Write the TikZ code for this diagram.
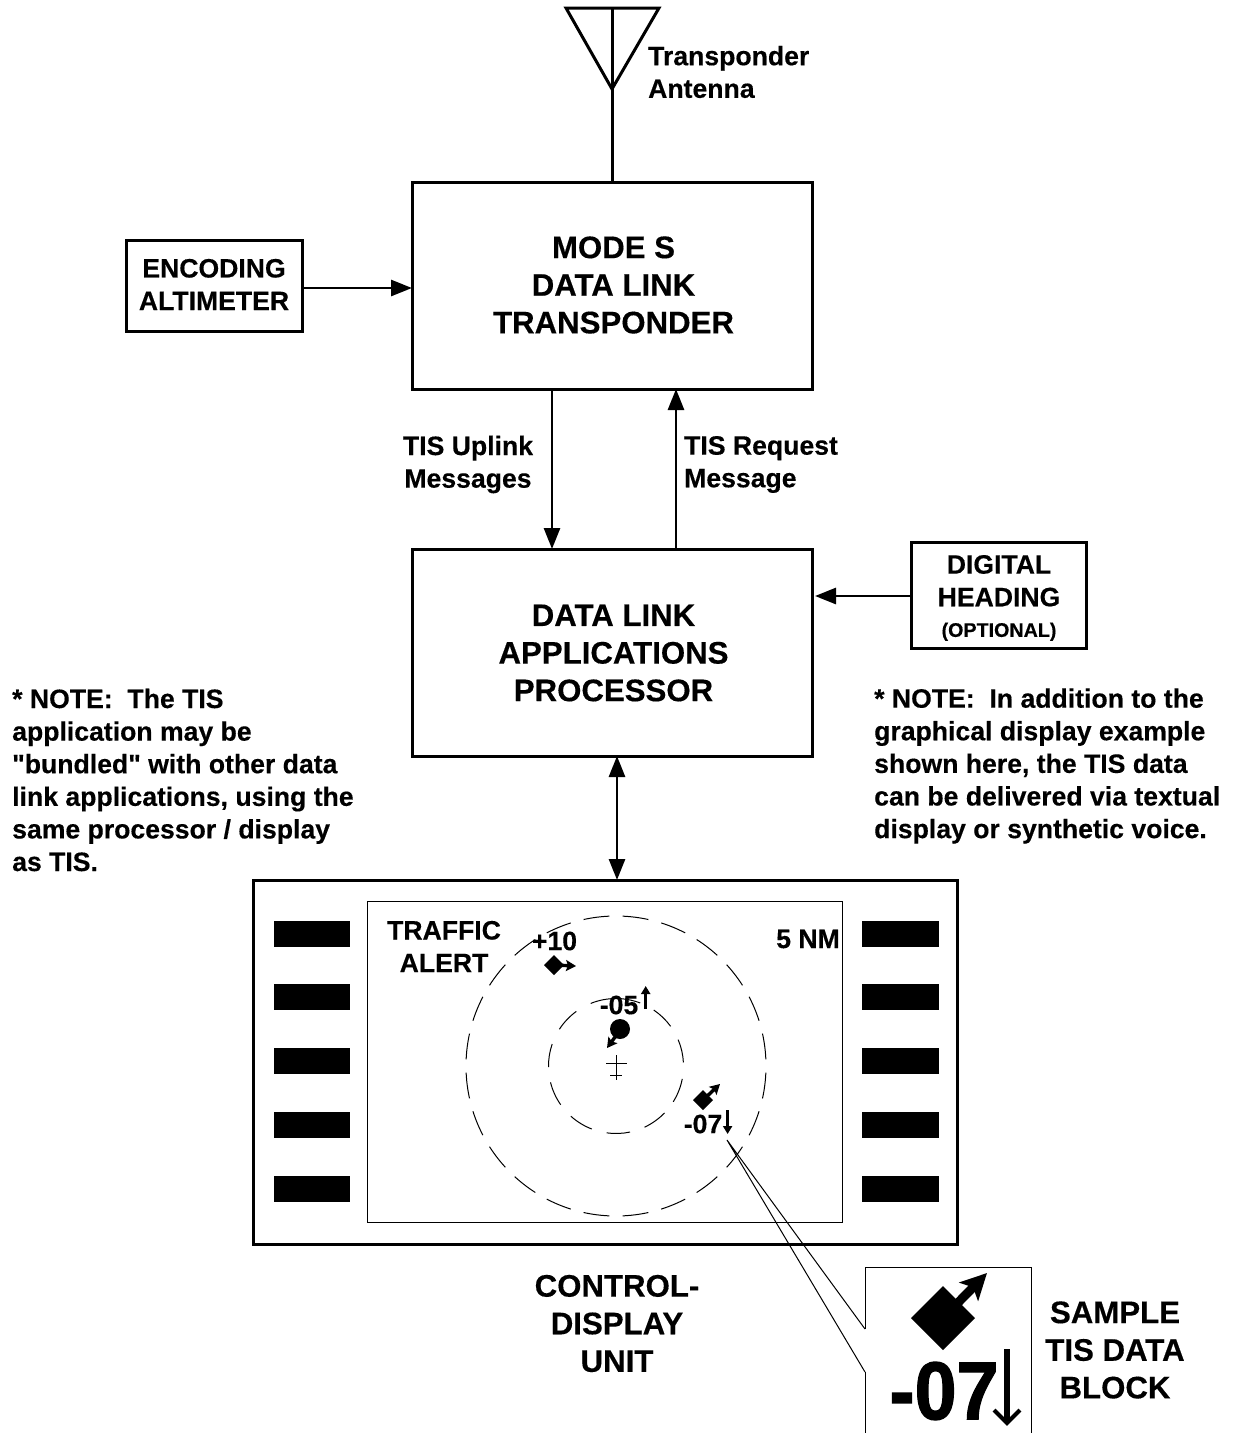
\documentclass[tikz,border=0pt]{standalone}
\usepackage{fontspec}
\setmainfont{Liberation Sans}[BoldFeatures={FakeBold=0.35}]
\newfontfamily\heavyface{Liberation Sans Bold}[FakeBold=1.6]
\newfontfamily\quoteface{Liberation Sans Bold}[FakeBold=0.35]
\usetikzlibrary{arrows.meta,calc}
\tikzset{
  box/.style={draw=black,line width=3pt,fill=white,inner sep=0pt,outer sep=0pt,align=center},
  big/.style={font=\bfseries\fontsize{31.2}{37.6}\selectfont,align=center,inner sep=0pt},
  mid/.style={font=\bfseries\fontsize{26.6}{32.6}\selectfont,align=center,inner sep=0pt},
  link/.style={line width=2.8pt,-{Triangle[length=21pt,width=16pt]}},
  biglink/.style={line width=2.8pt,{Triangle[length=21pt,width=16pt]}-{Triangle[length=21pt,width=16pt]}},
  softkey/.style={fill=black,draw=none,minimum width=76.5pt,minimum height=26pt,inner sep=0pt,outer sep=0pt},
  thin line/.style={line width=1pt},
  track/.style={line width=3.4pt,-{Stealth[length=10pt,width=11pt,inset=2pt]}},
  vert/.style={line width=2.8pt,-{Triangle[length=8pt,width=9pt]}}
}
\begin{document}
\begin{tikzpicture}[x=1pt,y=-1pt]
\useasboundingbox (0,0) rectangle (1238,1433);
% antenna
\coordinate (ant) at (612,8);
\node[box,minimum width=400pt,minimum height=207pt] (xp) at (612,285.5) {};
\node[big] (xpt) at (613.5,285) {MODE S\\DATA LINK\\TRANSPONDER};
\draw[line width=3pt,line join=miter] (566,8) -- (659,8) -- (ant |- 0,89) -- cycle;
\draw[line width=3pt] (ant) -- (xp.north -| ant);
\node[mid,align=left,anchor=west] (antl) at (648,72) {Transponder\\Antenna};
% altimeter
\node[box,minimum width=176pt,minimum height=91pt] (alt) at (214,285.5) {};
\node[mid] (altt) at (214,284.5) {ENCODING\\ALTIMETER};
\draw[link] ([yshift=-2.5pt]alt.east) -- ([yshift=-2.5pt]xp.west |- alt.east);
% processor
\node[box,minimum width=400pt,minimum height=207pt] (dl) at (612,652.5) {};
\node[big] (dlt) at (613.5,653) {DATA LINK\\APPLICATIONS\\PROCESSOR};
\draw[link] ([xshift=-60pt]xp.south) -- ([xshift=-60pt]dl.north);
\draw[link] ([xshift=64pt]dl.north) -- ([xshift=64pt]xp.south);
\node[mid] (upl) at (468,464.5) {TIS Uplink\\Messages};
\node[mid,align=left,anchor=west] (req) at (684,464.5) {TIS Request\\Message};
% heading
\node[box,minimum width=175pt,minimum height=106pt] (hd) at (998.5,595) {};
\node[mid] (hdt) at (999,598) {DIGITAL\\HEADING\\[-2pt]{\fontsize{19.7}{20}\selectfont (OPTIONAL)}};
\draw[link] ([yshift=-1pt]hd.west) -- ([xshift=3pt,yshift=-1pt]dl.east |- hd.west);
% notes
\node[mid,align=left,anchor=west] (nl) at (12,780) {* NOTE:\ \ The TIS\\application may be\\{\quoteface"}bundled{\quoteface"} with other data\\link applications, using the\\same processor / display\\as TIS.};
\node[mid,align=left,anchor=west] (nr) at (874,766) {* NOTE:\ \ In addition to the\\graphical display example\\shown here, the TIS data\\can be delivered via textual\\display or synthetic voice.};
% control display
\node[box,minimum width=704pt,minimum height=364pt] (cdu) at (605,1062) {};
\draw[biglink] ([xshift=5pt]dl.south) -- ([xshift=5pt]dl.south |- cdu.north);
\node[draw=black,line width=1pt,fill=white,minimum width=475pt,minimum height=321pt,inner sep=0pt,outer sep=0pt] (scr) at (604.5,1061.5) {};
\foreach \i/\yy in {1/933.5,2/997,3/1060.5,4/1124.5,5/1189}{
  \node[softkey] (kl\i) at (312,\yy) {};
  \node[softkey] (kr\i) at (900.5,\yy) {};
}
% rings
\draw[thin line,dash pattern=on 26pt off 13.27pt,dash phase=32.6pt] (616,1066) circle[radius=150pt];
\begin{scope}[shift={(616,1066)},y=1pt]
\foreach \a/\b in {69/112,36/56,3/23,-32/-11,-65/-44,-98/-78,-132/-111,-166/-145,161/181,126/147}
  \draw[thin line] (\a:67.5) arc[start angle=\a,end angle=\b,radius=67.5];
\end{scope}
\draw[thin line] (616,1055) -- (616,1080) (606,1063) -- (627,1063) (610,1075) -- (622,1075);
\node[mid] (ta) at (444,946.5) {TRAFFIC\\ALERT};
\node[mid] (rng) at (808,939) {5 NM};
% targets
\node[mid] (t1) at (554.5,941) {+10};
\fill (544,965) -- (554,955) -- (564,965) -- (554,975) -- cycle;
\draw[track] (554,965) -- (576,966);
\node[mid] (t2) at (619,1005) {-05};
\draw[vert] (645.7,1009) -- (645.7,986);
\fill (620,1029) circle[radius=10pt];
\draw[track] (618,1033) -- (607,1048);
\fill (693,1100) -- (703,1090) -- (713,1100) -- (703,1110) -- cycle;
\draw[track] (703,1100) -- (720,1084);
\node[mid] (t3) at (703,1124) {-07};
\draw[vert] (727.6,1110) -- (727.6,1134);
% sample block
\coordinate (ptr) at (727,1140);
\coordinate (sa) at (865,1329);
\coordinate (sb) at (865,1372);
\draw[thin line] (sa) -- (865,1267) -- (1031,1267) -- (1031,1433);
\draw[thin line] (sb) -- (865,1433);
\draw[thin line] (sa) -- (ptr) -- (sb);
\fill (911,1318) -- (943,1286) -- (975,1318) -- (943,1350) -- cycle;
\draw[line width=9pt,-{Stealth[length=26pt,width=26pt,inset=6pt]}] (943,1318) -- (987,1273);
\node[font=\heavyface\fontsize{82}{82}\selectfont,inner sep=0pt,xscale=.92] (bigt) at (944,1391) {-07};
\draw[line width=6pt] (1007,1349) -- (1007,1421);
\draw[line width=4pt,line join=miter] (994,1410) -- (1007,1423) -- (1020,1410);
\node[big] (cdl) at (617,1323.5) {CONTROL-\\DISPLAY\\UNIT};
\node[big] (sdl) at (1115,1350) {SAMPLE\\TIS DATA\\BLOCK};
\end{tikzpicture}
\end{document}
